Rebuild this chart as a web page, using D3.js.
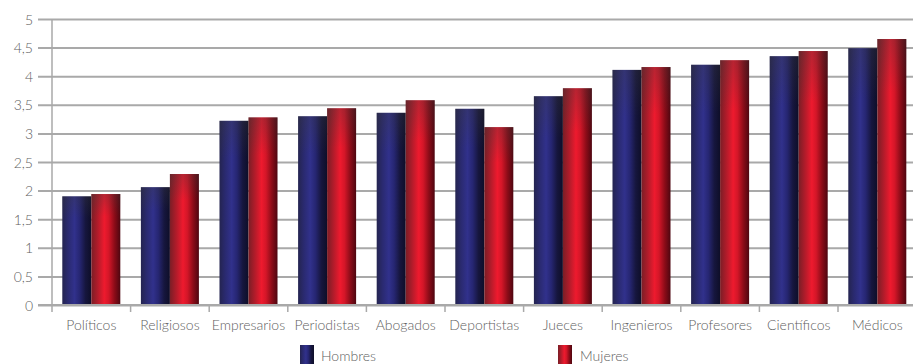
<!DOCTYPE html>
<html><head><meta charset="utf-8">
<script src="https://cdn.jsdelivr.net/npm/d3@7"></script>
<style>
html,body{margin:0;padding:0;background:#fff;}
text{font-family:Lato,"Open Sans",sans-serif;font-weight:300;fill:#606060;}
</style></head>
<body><svg id="c" width="913" height="364"></svg>
<script>
const categories = ["Políticos","Religiosos","Empresarios","Periodistas","Abogados","Deportistas","Jueces","Ingenieros","Profesores","Científicos","Médicos"];
const series = ["Hombres","Mujeres"];
const hombres = [1.90,2.06,3.22,3.30,3.36,3.43,3.65,4.11,4.20,4.35,4.49];
const mujeres = [1.94,2.29,3.28,3.44,3.58,3.11,3.79,4.16,4.28,4.44,4.65];
const yTicks = [0,0.5,1,1.5,2,2.5,3,3.5,4,4.5,5];
const yTickLabels = ["0","0,5","1","1,5","2","2,5","3","3,5","4","4,5","5"];

const svg = d3.select("#c");
const x0 = d3.scaleBand().domain(categories).range([52, 916.6]).padding(0);
const x1 = d3.scaleBand().domain(series).range([0, x0.bandwidth()]).paddingInner(0).paddingOuter(0.355);
const y = d3.scaleLinear().domain([0,5]).range([305,19]);

const defs = svg.append("defs");
function grad(id, stops){
  const g = defs.append("linearGradient").attr("id",id).attr("x1","0").attr("x2","1").attr("y1","0").attr("y2","0");
  stops.forEach(s=>g.append("stop").attr("offset",s[0]).attr("stop-color",s[1]));
}
grad("gH", [[0,"#242450"],[0.2,"#2a2a70"],[0.42,"#31318c"],[0.6,"#262672"],[0.8,"#16163e"],[1,"#0e0e28"]]);
grad("gM", [[0,"#7a1e26"],[0.2,"#ac1c2a"],[0.45,"#ee1a2e"],[0.6,"#d41628"],[0.8,"#8c0c18"],[1,"#4e0610"]]);
const topGrad = defs.append("linearGradient").attr("id","gTop").attr("x1","0").attr("x2","0").attr("y1","0").attr("y2","1");
topGrad.append("stop").attr("offset",0).attr("stop-color","#3a3a3a").attr("stop-opacity",0.3);
topGrad.append("stop").attr("offset",0.2).attr("stop-color","#3a3a3a").attr("stop-opacity",0.0);
topGrad.append("stop").attr("offset",1).attr("stop-color","#3a3a3a").attr("stop-opacity",0.0);

// gridlines
const yAxis = d3.axisLeft(y).tickValues(yTicks).tickFormat((d,i)=>yTickLabels[i]).tickSize(0).tickPadding(0);
const gy = svg.append("g").attr("transform","translate(916,0)").call(yAxis);
gy.select(".domain").remove();
gy.selectAll(".tick line").attr("stroke","#a9a9a9").attr("stroke-width",2).attr("x1",0).attr("x2",-878);
gy.selectAll(".tick text").attr("x",-883).attr("dy","0.36em").style("font-size","14px").attr("fill","#606060");

// y axis line
svg.append("line").attr("x1",52).attr("x2",52).attr("y1",19).attr("y2",312).attr("stroke","#a9a9a9").attr("stroke-width",1.5);

// bars
const data = categories.map((c,i)=>({c, vals:[{s:"Hombres",v:hombres[i]},{s:"Mujeres",v:mujeres[i]}]}));
const grp = svg.append("g").selectAll("g").data(data).join("g").attr("transform",d=>`translate(${x0(d.c)},0)`);
grp.selectAll("rect.b").data(d=>d.vals).join("rect").attr("class","b")
  .attr("x",d=>x1(d.s)).attr("width",x1.bandwidth())
  .attr("y",d=>y(d.v)).attr("height",d=>y(0)-y(d.v))
  .attr("fill",d=>d.s==="Hombres"?"url(#gH)":"url(#gM)");
grp.selectAll("rect.t").data(d=>d.vals).join("rect").attr("class","t")
  .attr("x",d=>x1(d.s)).attr("width",x1.bandwidth())
  .attr("y",d=>y(d.v)).attr("height",d=>y(0)-y(d.v))
  .attr("fill","url(#gTop)");

// x axis ticks and labels
const xAxis = d3.axisBottom(x0).tickSize(0).tickPadding(0);
const gx = svg.append("g").attr("transform","translate(0,305)").call(xAxis);
gx.select(".domain").remove();
gx.selectAll(".tick text").attr("y",25).attr("dy",0).style("font-size","14px").attr("fill","#606060");
svg.append("g").selectAll("line").data(categories).join("line")
  .attr("x1",d=>x0(d)+x0.bandwidth()).attr("x2",d=>x0(d)+x0.bandwidth())
  .attr("y1",305).attr("y2",312).attr("stroke","#a9a9a9").attr("stroke-width",1.5);
svg.append("line").attr("x1",38).attr("x2",916).attr("y1",305).attr("y2",305).attr("stroke","#a9a9a9").attr("stroke-width",2);

// legend
const legX = [300,558];
const lg = svg.append("g").selectAll("g").data(series).join("g").attr("transform",(d,i)=>`translate(${legX[i]},345)`);
lg.append("rect").attr("width",14).attr("height",20).attr("fill",d=>d==="Hombres"?"url(#gH)":"url(#gM)");
lg.append("text").attr("x",d=>d==="Hombres"?21:22).attr("y",16).style("font-size","14px").text(d=>d);
</script></body></html>
